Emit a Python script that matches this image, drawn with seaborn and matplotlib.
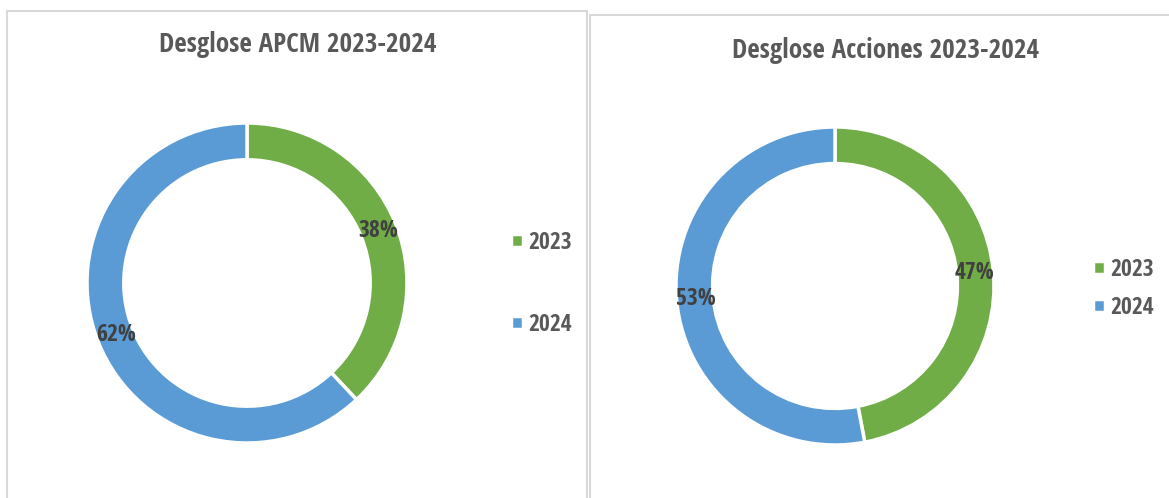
import matplotlib
matplotlib.use("Agg")
import matplotlib.pyplot as plt
from matplotlib.patches import Rectangle
import seaborn as sns

# data
years = ["2023", "2024"]
apcm_share = [38, 62]
acciones_share = [47, 53]
titles = ["Desglose APCM 2023-2024", "Desglose Acciones 2023-2024"]

green = "#70AD47"
blue = "#5B9BD5"
palette = [green, blue]

sns.set_theme(style="white")
plt.rcParams["font.family"] = ["Open Sans Condensed", "Liberation Sans", "DejaVu Sans"]
plt.rcParams["font.weight"] = "bold"

W, H = 1169, 498
fig = plt.figure(figsize=(W / 100, H / 100), dpi=100)
fig.patch.set_facecolor("white")


def px_axes(cx, cy, r):
    return fig.add_axes([(cx - r) / W, 1 - (cy + r) / H, 2 * r / W, 2 * r / H])


def donut(ax, values):
    wedges, _, autotexts = ax.pie(
        values, colors=palette, startangle=90, counterclock=False,
        radius=1, autopct="%1.0f%%", pctdistance=0.88,
        wedgeprops=dict(width=0.23, edgecolor="white", linewidth=2.5),
        textprops=dict(color="#404040", fontsize=17, fontweight="bold"),
    )
    ax.set_xlim(-1, 1)
    ax.set_ylim(-1, 1)
    ax.set_aspect("equal")
    ax.axis("off")
    return wedges


# panel borders
fig.add_artist(Rectangle((7 / W, -0.1), 580 / W, 1.1 - 11 / H, transform=fig.transFigure,
                         fill=False, ec="#d9d9d9", lw=1.5))
fig.add_artist(Rectangle((590 / W, -0.1), 600 / W, 1.1 - 15.5 / H, transform=fig.transFigure,
                         fill=False, ec="#d9d9d9", lw=1.5))

legend_kw = dict(loc="center left", frameon=False, fontsize=17, labelcolor="#595959",
                 borderpad=0, borderaxespad=0, handlelength=0.5, handleheight=0.5,
                 handletextpad=0.25)

# left chart
ax1 = px_axes(247, 283, 160)
w1 = donut(ax1, apcm_share)
fig.text(298 / W, 1 - 52 / H, titles[0], ha="center", va="baseline",
         fontsize=19.5, fontweight="bold", color="#595959")
fig.legend(w1, years, bbox_to_anchor=(511 / W, 1 - 284 / H), labelspacing=2.45, **legend_kw)

# right chart
ax2 = px_axes(835, 286, 159)
w2 = donut(ax2, acciones_share)
fig.text(886 / W, 1 - 58 / H, titles[1], ha="center", va="baseline",
         fontsize=19.5, fontweight="bold", color="#595959")
fig.legend(w2, years, bbox_to_anchor=(1093 / W, 1 - 289 / H), labelspacing=0.6, **legend_kw)

fig.savefig("out.png", dpi=100)
